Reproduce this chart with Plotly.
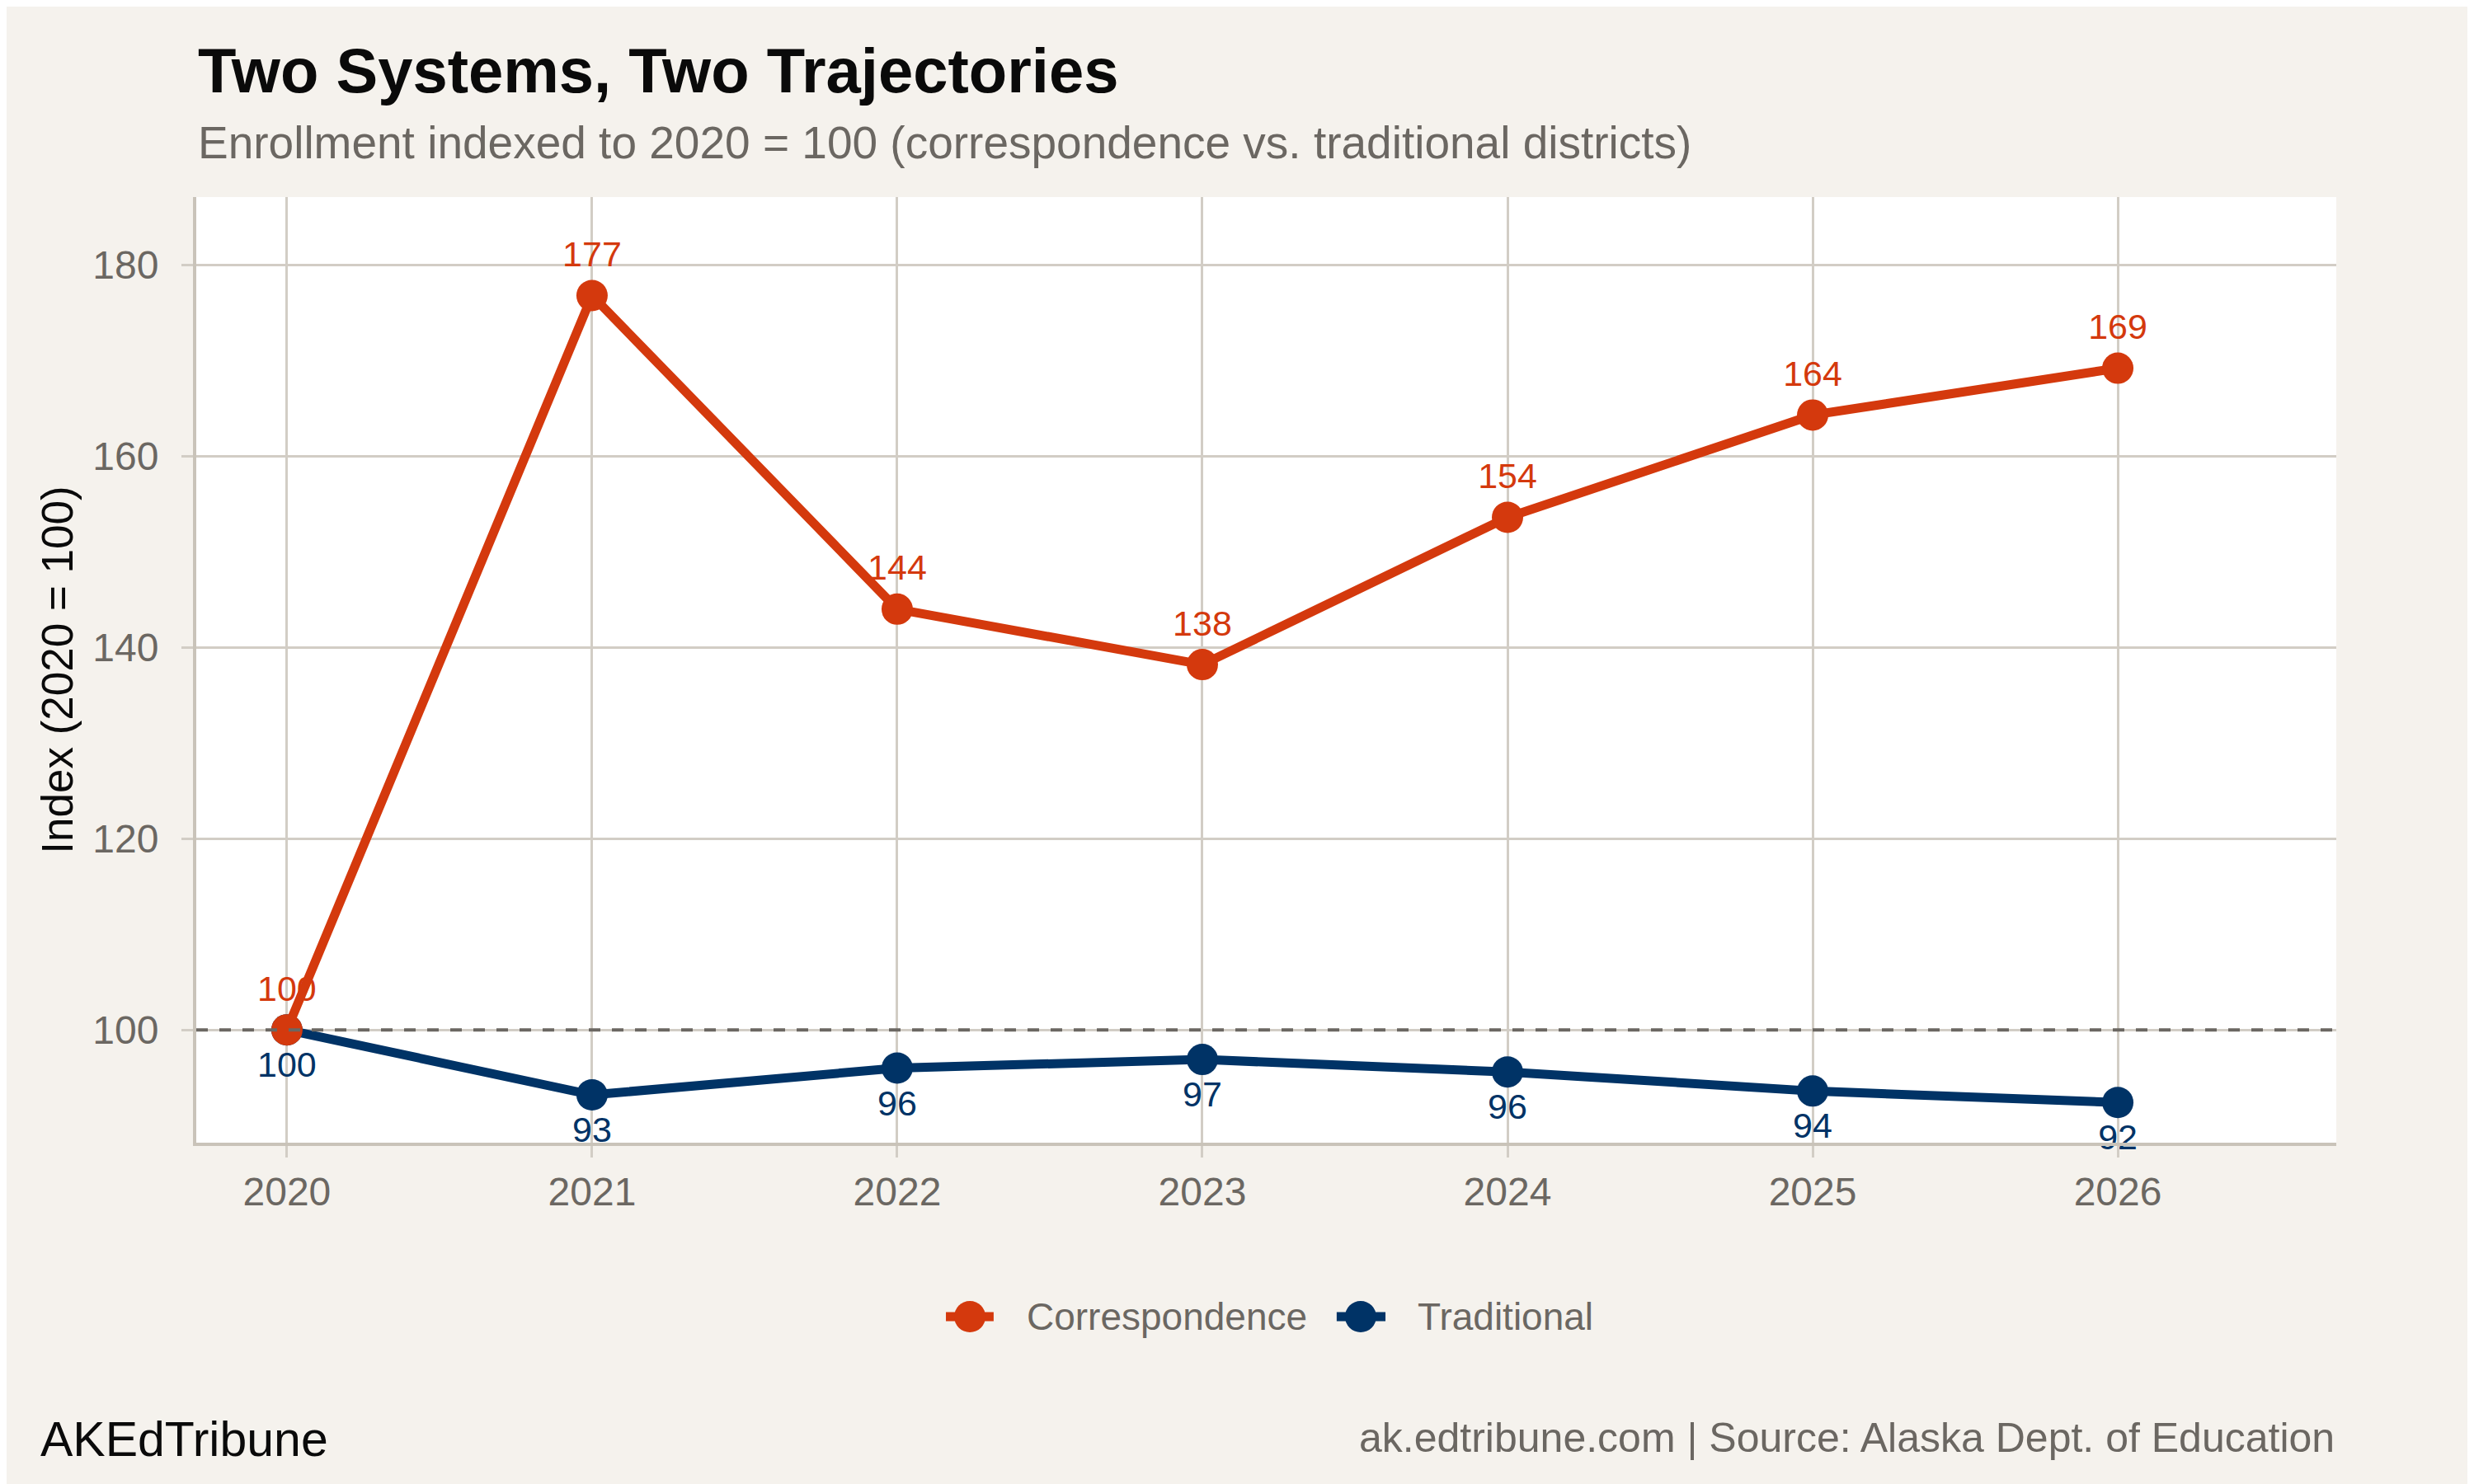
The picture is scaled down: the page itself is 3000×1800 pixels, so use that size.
import plotly.graph_objects as go

# --- Daten ---
years = [2020, 2021, 2022, 2023, 2024, 2025, 2026]
correspondence = [100, 176.8, 144.0, 138.2, 153.6, 164.3, 169.2]
traditional = [100, 93.2, 96.0, 96.9, 95.6, 93.6, 92.4]
baseline = 100

series_names = ["Correspondence", "Traditional"]
y_ticks = [100, 120, 140, 160, 180]

title_text = "<b>Two Systems, Two Trajectories</b>"
subtitle_text = "Enrollment indexed to 2020 = 100 (correspondence vs. traditional districts)"
y_title = "Index (2020 = 100)"
brand_text = "AKEdTribune"
source_text = "ak.edtribune.com | Source: Alaska Dept. of Education"

# --- Stil ---
FONT = "Liberation Sans, Arial, sans-serif"
ORANGE = "#d4390d"
NAVY = "#003366"
GREY_TEXT = "#6b6762"
GRID = "#d2cdc5"
AXIS = "#c9c3b9"
PAPER = "#f5f2ed"

fig = go.Figure()

# Traditional zuerst, damit Correspondence bei 2020 oben liegt
fig.add_trace(
    go.Scatter(
        x=years,
        y=traditional,
        mode="lines+markers+text",
        name=series_names[1],
        line=dict(color=NAVY, width=11),
        marker=dict(color=NAVY, size=38),
        texttemplate="%{y:.0f}",
        textposition="bottom center",
        textfont=dict(color=NAVY, size=43, family=FONT),
        cliponaxis=False,
        showlegend=False,
    )
)
fig.add_trace(
    go.Scatter(
        x=years,
        y=correspondence,
        mode="lines+markers+text",
        name=series_names[0],
        line=dict(color=ORANGE, width=11),
        marker=dict(color=ORANGE, size=38),
        texttemplate="%{y:.0f}",
        textposition="top center",
        textfont=dict(color=ORANGE, size=43, family=FONT),
        cliponaxis=False,
        showlegend=False,
    )
)

# Referenzlinie bei 100
fig.add_shape(
    type="line",
    xref="paper",
    x0=0,
    x1=1,
    yref="y",
    y0=baseline,
    y1=baseline,
    line=dict(color="#6b6762", width=4, dash="14px,14px"),
    layer="above",
)

# --- Legende (manuell, damit die Symbole gross bleiben) ---
legend_y = -0.184
legend_items = [
    (series_names[0], ORANGE, 0.3503, 0.3726, 0.3615, 0.3873),
    (series_names[1], NAVY, 0.5329, 0.5557, 0.5441, 0.5699),
]
for name, color, lx0, lx1, cx, tx in legend_items:
    fig.add_shape(
        type="line",
        xref="paper",
        yref="paper",
        x0=lx0,
        x1=lx1,
        y0=legend_y,
        y1=legend_y,
        line=dict(color=color, width=11),
    )
    fig.add_shape(
        type="circle",
        xref="paper",
        yref="paper",
        xsizemode="pixel",
        ysizemode="pixel",
        xanchor=cx,
        yanchor=legend_y,
        x0=-19,
        x1=19,
        y0=-19,
        y1=19,
        fillcolor=color,
        line=dict(width=0),
    )
    fig.add_annotation(
        text=name,
        xref="paper",
        yref="paper",
        x=tx,
        y=legend_y,
        xanchor="left",
        yanchor="middle",
        showarrow=False,
        font=dict(size=46, color=GREY_TEXT, family=FONT),
    )

# --- Titel und Fusszeile ---
fig.add_annotation(
    text=title_text,
    xref="paper",
    yref="paper",
    x=0,
    y=1.1338,
    xanchor="left",
    yanchor="middle",
    showarrow=False,
    font=dict(size=76, color="#0a0a0a", family=FONT),
)
fig.add_annotation(
    text=subtitle_text,
    xref="paper",
    yref="paper",
    x=0,
    y=1.0576,
    xanchor="left",
    yanchor="middle",
    showarrow=False,
    font=dict(size=55, color=GREY_TEXT, family=FONT),
)
fig.add_annotation(
    text=brand_text,
    xref="paper",
    yref="paper",
    x=-0.0735,
    y=-0.3139,
    xanchor="left",
    yanchor="middle",
    showarrow=False,
    font=dict(size=59, color="#0a0a0a", family=FONT),
)
fig.add_annotation(
    text=source_text,
    xref="paper",
    yref="paper",
    x=1.0,
    y=-0.3121,
    xanchor="right",
    yanchor="middle",
    showarrow=False,
    font=dict(size=50, color=GREY_TEXT, family=FONT),
)

# Die Seite hat 8px Rand, daher links/oben 8px weniger
fig.update_layout(
    width=3000,
    height=1800,
    margin=dict(l=230, r=175, t=231, b=422),
    paper_bgcolor=PAPER,
    plot_bgcolor="white",
    font=dict(family=FONT, color=GREY_TEXT),
    xaxis=dict(
        range=[2019.703, 2026.716],
        tickvals=years,
        showgrid=True,
        gridcolor=GRID,
        gridwidth=3,
        showline=True,
        linecolor=AXIS,
        linewidth=4,
        ticks="outside",
        ticklen=14,
        tickwidth=3,
        tickcolor=GRID,
        tickfont=dict(size=48, color=GREY_TEXT),
        zeroline=False,
    ),
    yaxis=dict(
        range=[88.2, 187.1],
        tickvals=y_ticks,
        showgrid=True,
        gridcolor=GRID,
        gridwidth=3,
        showline=True,
        linecolor=AXIS,
        linewidth=4,
        ticks="outside",
        ticklen=14,
        tickwidth=3,
        tickcolor=GRID,
        tickfont=dict(size=48, color=GREY_TEXT),
        ticklabelstandoff=18,
        zeroline=False,
        title=dict(text=y_title, font=dict(size=53, color="#0a0a0a"), standoff=8),
    ),
)

fig.write_html("out.html")
